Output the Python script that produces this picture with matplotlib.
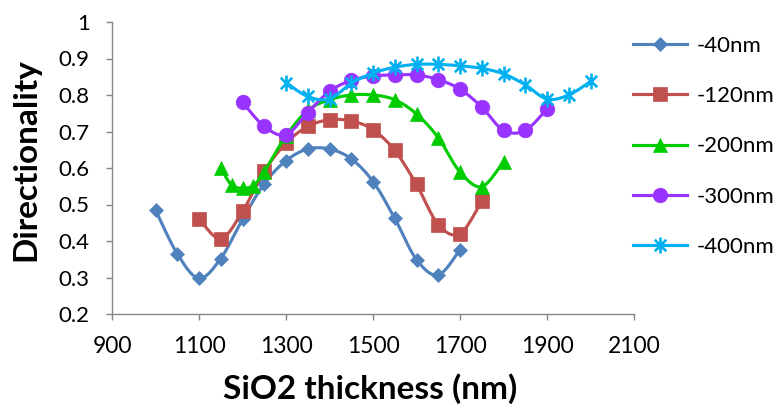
import numpy as np
import matplotlib
matplotlib.use('Agg')
import matplotlib.pyplot as plt
from matplotlib.path import Path
from matplotlib.lines import Line2D
from matplotlib.ticker import FuncFormatter

plt.rcParams['font.family'] = ['Lato', 'DejaVu Sans']

# ---- data ----
x_40 = [1000, 1050, 1100, 1150, 1200, 1250, 1300, 1350, 1400, 1450, 1500, 1550, 1600, 1650, 1700]
y_40 = [0.485, 0.365, 0.298, 0.352, 0.459, 0.557, 0.620, 0.652, 0.652, 0.625, 0.563, 0.462, 0.349, 0.307, 0.376]

x_120 = [1100, 1150, 1200, 1250, 1300, 1350, 1400, 1450, 1500, 1550, 1600, 1650, 1700, 1750]
y_120 = [0.461, 0.406, 0.481, 0.591, 0.668, 0.714, 0.732, 0.729, 0.705, 0.648, 0.555, 0.445, 0.420, 0.509]

x_200 = [1150, 1175, 1200, 1225, 1250, 1300, 1350, 1400, 1450, 1500, 1550, 1600, 1650, 1700, 1750, 1800]
y_200 = [0.600, 0.553, 0.545, 0.552, 0.590, 0.688, 0.758, 0.787, 0.800, 0.800, 0.787, 0.748, 0.683, 0.589, 0.549, 0.617]

x_300 = [1200, 1250, 1300, 1350, 1400, 1450, 1500, 1550, 1600, 1650, 1700, 1750, 1800, 1850, 1900]
y_300 = [0.780, 0.714, 0.691, 0.752, 0.810, 0.840, 0.852, 0.855, 0.855, 0.842, 0.816, 0.767, 0.703, 0.703, 0.762]

x_400 = [1300, 1350, 1400, 1450, 1500, 1550, 1600, 1650, 1700, 1750, 1800, 1850, 1900, 1950, 2000]
y_400 = [0.834, 0.796, 0.789, 0.832, 0.860, 0.876, 0.884, 0.884, 0.880, 0.873, 0.858, 0.828, 0.789, 0.800, 0.837]

labels = ['-40nm', '-120nm', '-200nm', '-300nm', '-400nm']
x_ticks = [900, 1100, 1300, 1500, 1700, 1900, 2100]
y_ticks = [0.2, 0.3, 0.4, 0.5, 0.6, 0.7, 0.8, 0.9, 1.0]

# ---- styling ----
colors = ['#4F81BD', '#C0504D', '#00CC00', '#9933FF', '#00B0F0']
star = Path([(0, -1), (0, 1), (-0.72, -0.72), (0.72, 0.72), (-0.72, 0.72), (0.72, -0.72)],
            [Path.MOVETO, Path.LINETO] * 3)
markers = ['D', 's', '^', 'o', star]
msizes = [7.4, 10.5, 10.5, 10.5, 11.5]


def smooth(x, y, n=24):
    P = np.column_stack([np.asarray(x, float), np.asarray(y, float)])
    ext = np.vstack([P[0], P, P[-1]])
    t = np.linspace(0, 1, n, endpoint=False)[:, None]
    out = []
    for i in range(len(P) - 1):
        p0, p1, p2, p3 = ext[i], ext[i + 1], ext[i + 2], ext[i + 3]
        c1 = p1 + (p2 - p0) / 6.0
        c2 = p2 - (p3 - p1) / 6.0
        out.append((1 - t) ** 3 * p1 + 3 * (1 - t) ** 2 * t * c1 + 3 * (1 - t) * t ** 2 * c2 + t ** 3 * p2)
    out.append(P[-1:])
    out = np.vstack(out)
    return out[:, 0], out[:, 1]


fig = plt.figure(figsize=(7.76, 4.05), dpi=100)
ax = fig.add_axes([112 / 776, 1 - 314 / 405, (634 - 112) / 776, (314 - 22) / 405])

series = [(x_40, y_40), (x_120, y_120), (x_200, y_200), (x_300, y_300), (x_400, y_400)]
handles = []
for i, ((xs, ys), c, m, ms, lab) in enumerate(zip(series, colors, markers, msizes, labels)):
    sx, sy = smooth(xs, ys)
    z = 2 + i
    ax.plot(sx, sy, color=c, lw=2.25, solid_capstyle='round', zorder=z)
    if m is star:
        kw = dict(marker=m, ms=ms, mec=c, mfc='none', mew=1.9)
    else:
        kw = dict(marker=m, ms=ms, mec=c, mfc=c, mew=0.5)
    ax.plot(xs, ys, ls='none', zorder=z, **kw)
    handles.append(Line2D([], [], color=c, lw=2.25, **kw))

ax.set_xlim(900, 2100)
ax.set_ylim(0.2, 1.0)
ax.set_xticks(x_ticks)
ax.set_yticks(y_ticks)
ax.yaxis.set_major_formatter(FuncFormatter(lambda v, p: '%g' % round(v, 2)))
ax.xaxis.set_major_formatter(FuncFormatter(lambda v, p: '%d' % v))

for s in ['top', 'right']:
    ax.spines[s].set_visible(False)
for s in ['left', 'bottom']:
    ax.spines[s].set_color('#868686')
    ax.spines[s].set_linewidth(1.0)
ax.tick_params(axis='both', direction='out', length=4, width=1.0, color='#868686',
               labelcolor='black')
ax.tick_params(axis='y', pad=12, labelsize=16)
ax.tick_params(axis='x', pad=12, labelsize=16.5)

fig.text(35 / 776, 1 - 160 / 405, 'Directionality', rotation=90, rotation_mode='anchor',
         ha='center', va='baseline', fontsize=24, fontweight='bold')
fig.text(370 / 776, 1 - 399 / 405, 'SiO2 thickness (nm)', ha='center', va='baseline',
         fontsize=24, fontweight='bold')

leg = fig.legend(handles=handles, labels=labels, loc='upper left',
                 bbox_to_anchor=(633 / 776, 1 - 36 / 405), frameon=False,
                 fontsize=16, handlelength=2.45, handletextpad=0.4,
                 labelspacing=1.36, borderpad=0, borderaxespad=0)

fig.savefig('out.png', dpi=100)
